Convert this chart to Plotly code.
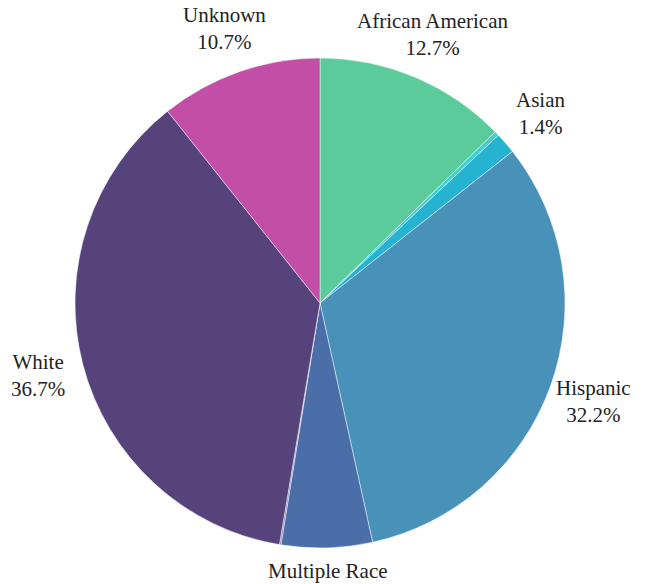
import math
import plotly.graph_objects as go

# Share of population by race/ethnicity
categories = ["African American", "American Indian", "Asian", "Hispanic",
              "Multiple Race", "Pacific Islander", "White", "Unknown"]
shares = [12.7, 0.3, 1.4, 32.2, 6.0, 0.1, 36.7, 10.7]
colors = ["#5ccb9c", "#3fd0cf", "#25b3d1", "#4892b9",
          "#4a6ea8", "#8a6cb0", "#57437c", "#c34ea8"]

W, H = 656, 584
CX, CY = 320, 303          # pie centre in pixels (from top-left)
R = 245                    # pie radius in pixels
LABEL_R = 291              # distance of label block centre from pie centre

fig = go.Figure(go.Pie(
    labels=categories,
    values=shares,
    textinfo="none",
    sort=False,
    direction="clockwise",
    rotation=0,
    marker=dict(colors=colors, line=dict(color="rgba(255,255,255,0.6)", width=0.8)),
    showlegend=False,
    domain=dict(x=[(CX - R) / W, (CX + R) / W],
                y=[(H - CY - R) / H, (H - CY + R) / H]),
    hoverinfo="label+percent",
))

# Outside labels placed along each slice's mid-angle
total = sum(shares)
cum = 0.0
for cat, val in zip(categories, shares):
    mid = (cum + val / 2) / total * 2 * math.pi
    cum += val
    if val < 1:
        continue
    px = CX + LABEL_R * math.sin(mid)
    py = min(CY - LABEL_R * math.cos(mid), H)   # keep the first line on the page
    fig.add_annotation(
        x=px / W, y=(H - py) / H, xref="paper", yref="paper",
        text=f"{cat}<br>{val:.1f}%",
        showarrow=False, xanchor="center", yanchor="middle", align="center",
        font=dict(family="Liberation Serif, DejaVu Serif, serif", size=21, color="#222222"),
    )

fig.update_layout(
    width=W, height=H,
    margin=dict(l=0, r=0, t=0, b=0),
    paper_bgcolor="white",
    plot_bgcolor="white",
)

fig.write_html("out.html")
